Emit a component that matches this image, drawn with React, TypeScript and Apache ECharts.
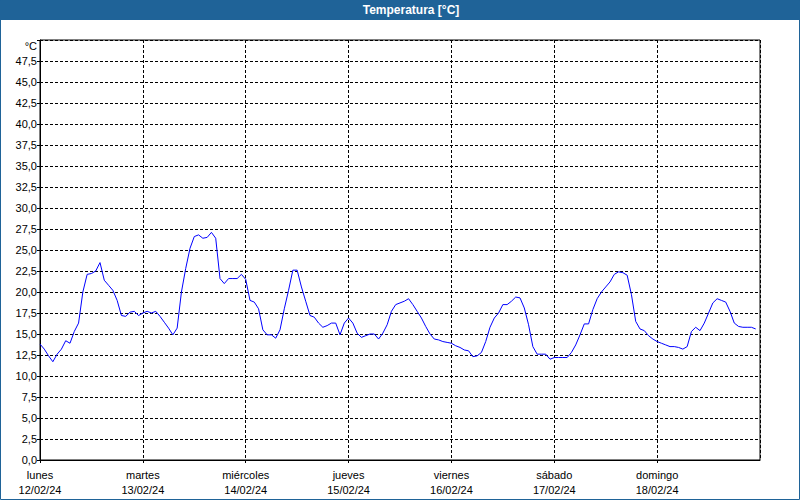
import React, { useEffect, useRef } from "react";
import * as echarts from "echarts";

const title = "Temperatura [°C]";
const dayNames = ["lunes", "martes", "miércoles", "jueves", "viernes", "sábado", "domingo"];
const dayDates = ["12/02/24", "13/02/24", "14/02/24", "15/02/24", "16/02/24", "17/02/24", "18/02/24"];
const yTop = 50;
const yStep = 2.5;
const hoursPerDay = 24;

// hourly temperature readings, starting Monday 12/02/24 00:00
const temperature = [
  13.8, 13.2, 12.4, 11.7, 12.6, 13.2, 14.2, 13.9, 15.3, 16.3, 20.0, 22.1,
  22.2, 22.5, 23.5, 21.4, 20.8, 20.2, 19.0, 17.2, 17.1, 17.6, 17.7, 17.2,
  17.5, 17.7, 17.5, 17.7, 17.1, 16.4, 15.7, 14.9, 15.7, 20.0, 22.8, 25.2,
  26.6, 26.8, 26.4, 26.5, 27.1, 26.4, 21.6, 21.0, 21.6, 21.6, 21.6, 22.1,
  21.5, 19.0, 18.8, 18.0, 15.5, 14.9, 14.9, 14.5, 15.5, 18.0, 20.2, 22.6,
  22.6, 20.6, 18.9, 17.2, 17.0, 16.3, 15.8, 16.0, 16.3, 16.3, 14.9, 16.3,
  16.9, 16.3, 15.1, 14.6, 14.8, 15.0, 15.0, 14.4, 15.1, 16.1, 17.7, 18.5,
  18.7, 18.9, 19.2, 18.5, 17.7, 16.9, 15.9, 15.0, 14.4, 14.3, 14.1, 14.0,
  13.9, 13.6, 13.4, 13.1, 13.0, 12.3, 12.4, 12.8, 14.1, 15.8, 16.9, 17.5,
  18.5, 18.5, 18.9, 19.4, 19.3, 18.1, 16.1, 13.5, 12.6, 12.6, 12.6, 12.0,
  12.2, 12.2, 12.2, 12.2, 12.8, 13.7, 14.9, 16.2, 16.2, 17.9, 19.2, 20.0,
  20.6, 21.2, 22.1, 22.4, 22.3, 22.0, 19.7, 16.5, 15.6, 15.4, 14.8, 14.4,
  14.1, 13.9, 13.7, 13.5, 13.5, 13.4, 13.2, 13.5, 15.3, 15.8, 15.4, 16.3,
  17.5, 18.7, 19.2, 19.0, 18.8, 17.7, 16.3, 15.9, 15.8, 15.8, 15.8, 15.6,
];

const FONT = "Liberation Sans";

export default function App() {
  const ref = useRef<HTMLDivElement>(null);
  useEffect(() => {
    document.body.style.margin = "0";
    const chart = echarts.init(ref.current!, null, { renderer: "svg" });
    const data = temperature.map((v, i) => [i, v]);
    const dashed = { color: "#000", width: 1, type: [3, 2] as any };
    chart.setOption({
      animation: false,
      backgroundColor: "#ffffff",
      textStyle: { fontFamily: FONT },
      graphic: [
        { type: "rect", shape: { x: 0, y: 0, width: 800, height: 20 }, style: { fill: "#1f6398" }, z: 10 },
        {
          type: "text",
          x: 411,
          y: 10,
          style: {
            text: title,
            fill: "#ffffff",
            font: `bold 12px "${FONT}"`,
            textAlign: "center",
            textVerticalAlign: "middle",
          },
          z: 11,
        },
        {
          type: "rect",
          shape: { x: 0.5, y: 0.5, width: 799, height: 499 },
          style: { fill: "none", stroke: "#1f6398", lineWidth: 1 },
          z: 10,
        },
      ],
      grid: {
        left: 40,
        right: 40,
        top: 40,
        bottom: 40,
        show: true,
        borderColor: "#000",
        borderWidth: 1,
        backgroundColor: "transparent",
      },
      xAxis: {
        type: "value",
        min: 0,
        max: dayNames.length * hoursPerDay,
        interval: hoursPerDay,
        axisLine: { show: true, lineStyle: { color: "#000", width: 1 } },
        axisTick: { show: true, length: 3, lineStyle: { color: "#000" } },
        splitLine: { show: true, lineStyle: dashed },
        axisLabel: {
          color: "#000",
          fontSize: 11,
          fontFamily: FONT,
          lineHeight: 15,
          margin: 7,
          showMaxLabel: false,
          formatter: (v: number) => {
            const d = Math.round(v / hoursPerDay);
            if (d >= dayNames.length) return "";
            return dayNames[d] + "\n" + dayDates[d];
          },
        },
      },
      yAxis: {
        type: "value",
        min: 0,
        max: yTop,
        interval: yStep,
        axisLine: { show: true, lineStyle: { color: "#000", width: 1 } },
        axisTick: { show: true, length: 3, lineStyle: { color: "#000" } },
        splitLine: { show: true, lineStyle: dashed },
        axisLabel: {
          color: "#000",
          fontSize: 11,
          fontFamily: FONT,
          margin: 3,
          formatter: (v: number) => (v >= yTop ? "{u|°C}" : v.toFixed(1).replace(".", ",")),
          rich: {
            u: { color: "#000", fontSize: 11, fontFamily: FONT, padding: [11, 0, 0, 0] },
          },
        },
      },
      series: [
        {
          type: "line",
          data,
          showSymbol: false,
          symbol: "none",
          lineStyle: { color: "#0000ff", width: 1 },
          z: 5,
        },
      ],
    });
    return () => chart.dispose();
  }, []);
  return <div ref={ref} style={{ width: 800, height: 500 }} />;
}
